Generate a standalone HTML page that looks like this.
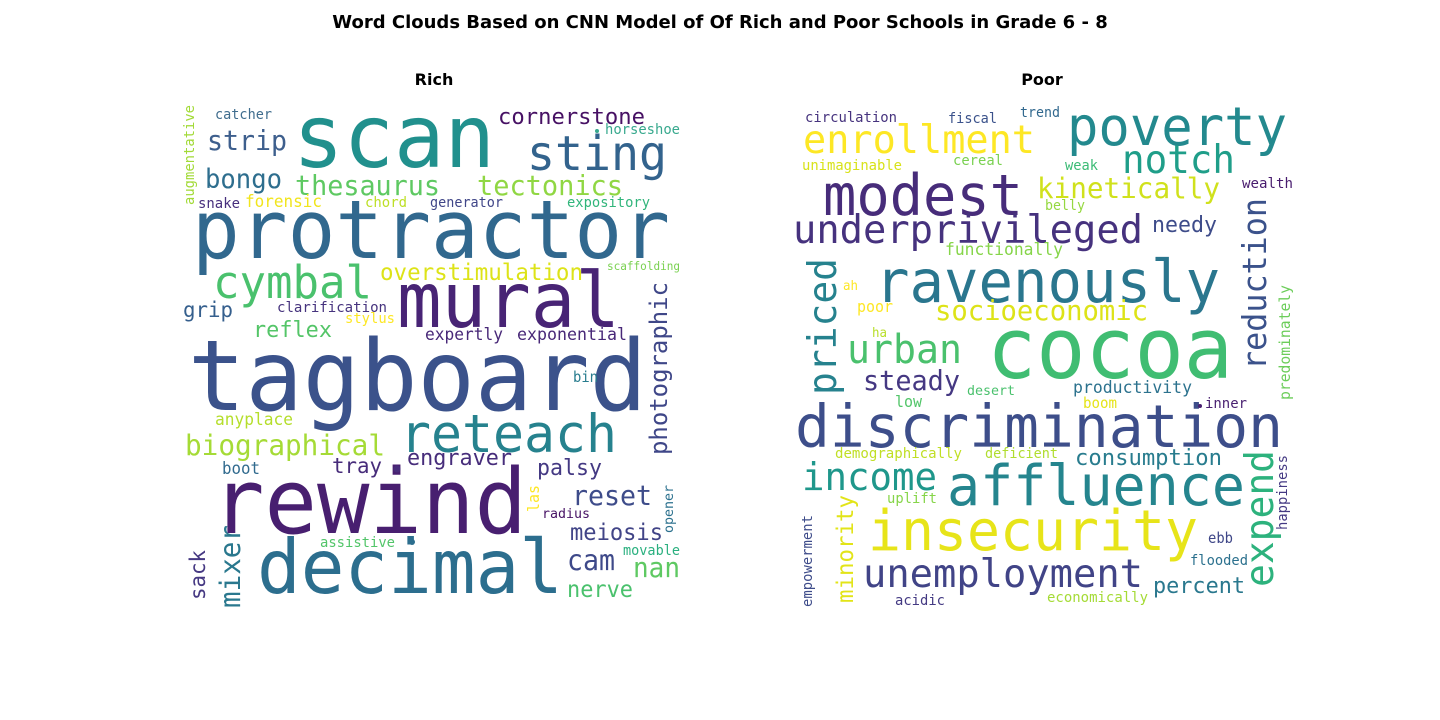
<!DOCTYPE html>
<html><head><meta charset="utf-8"><title>Word Clouds</title>
<style>
html,body{margin:0;padding:0;background:#fff;}
svg{display:block;}
</style></head>
<body>
<svg id="chart" width="1440" height="720" viewBox="0 0 1440 720" xmlns="http://www.w3.org/2000/svg">
<text x="720" y="28" text-anchor="middle" font-family="'DejaVu Sans', 'Liberation Sans', sans-serif" font-weight="bold" font-size="18">Word Clouds Based on CNN Model of Of Rich and Poor Schools in Grade 6 - 8</text>
<text x="434" y="85" text-anchor="middle" font-family="'DejaVu Sans', 'Liberation Sans', sans-serif" font-weight="bold" font-size="16">Rich</text>
<text x="1042" y="85" text-anchor="middle" font-family="'DejaVu Sans', 'Liberation Sans', sans-serif" font-weight="bold" font-size="16">Poor</text>
<g id="rich"></g>
<g id="poor"></g>
</svg>
<script>
// Horizontal: [word, left, right, baseline, color]; vertical: [word, baselineX, bottomY, topY, color, 'v']
const richWords = [
 ["scan",293,495,167,"#21908d"],
 ["protractor",192,670,258,"#31688e"],
 ["tagboard",188,647,410,"#3b528b"],
 ["rewind",212,527,533,"#481f70"],
 ["decimal",257,563,593,"#2c6e8e"],
 ["mural",397,620,327,"#482475"],
 ["reteach",400,617,452,"#26828e"],
 ["cymbal",213,372,298,"#4ac16d"],
 ["sting",527,667,170,"#33638d"],
 ["thesaurus",295,440,195,"#5ec962"],
 ["tectonics",477,623,195,"#90d743"],
 ["cornerstone",498,645,124,"#471164"],
 ["strip",207,287,150,"#3e5f8d"],
 ["bongo",205,282,188,"#2e6e8e"],
 ["overstimulation",380,583,280,"#dde318"],
 ["biographical",185,385,455,"#a5db36"],
 ["palsy",537,602,475,"#443983"],
 ["engraver",407,512,465,"#472d7b"],
 ["tray",332,382,473,"#472c7a"],
 ["reset",572,652,505,"#3e4c8a"],
 ["meiosis",570,663,540,"#414487"],
 ["cam",567,615,570,"#3e4989"],
 ["nan",633,680,577,"#5ec962"],
 ["nerve",567,633,597,"#4ac16d"],
 ["grip",183,233,317,"#355f8d"],
 ["reflex",253,332,337,"#54c568"],
 ["clarification",277,387,312,"#46337e"],
 ["stylus",345,395,323,"#fde725"],
 ["expertly",425,503,340,"#482878"],
 ["exponential",517,627,340,"#482878"],
 ["catcher",215,272,119,"#406d8e"],
 ["horseshoe",605,680,134,"#38a98e"],
 ["snake",198,240,208,"#472f7d"],
 ["forensic",245,322,207,"#f1e51d"],
 ["chord",365,407,207,"#bddf26"],
 ["generator",430,503,207,"#404688"],
 ["expository",567,650,207,"#31b57b"],
 ["scaffolding",607,680,270,"#7ad151"],
 ["anyplace",215,293,425,"#b5de2b"],
 ["boot",222,260,474,"#306a8e"],
 ["bin",573,598,382,"#287c8e"],
 ["radius",542,590,518,"#471365"],
 ["assistive",320,395,547,"#52c569"],
 ["movable",623,680,555,"#2ab07f"],
 ["augmentative",194,205,105,"#a2da37","v"],
 ["photographic",667,455,282,"#3f4788","v"],
 ["las",539,512,485,"#fde725","v"],
 ["opener",673,533,485,"#2c718e","v"],
 ["sack",205,600,550,"#453882","v"],
 ["mixer",240,608,525,"#2a788e","v"]
];
const richDots = [[597,131,2,"#38a98e"],[397,469,3.5,"#472c7a"],[412,542,3,"#2c6e8e"]];
const poorWords = [
 ["circulation",805,897,122,"#46337e"],
 ["fiscal",948,997,123,"#3b528b"],
 ["trend",1020,1060,117,"#31688e"],
 ["poverty",1067,1287,145,"#23898e"],
 ["enrollment",803,1035,153,"#fde725"],
 ["unimaginable",802,902,170,"#d8e219"],
 ["cereal",953,1003,165,"#7ad151"],
 ["weak",1065,1098,170,"#3bbb75"],
 ["notch",1122,1235,173,"#1f9e89"],
 ["wealth",1242,1293,188,"#481c6e"],
 ["modest",823,1023,215,"#472c7a"],
 ["kinetically",1037,1220,198,"#d0e11c"],
 ["belly",1045,1085,210,"#95d840"],
 ["underprivileged",793,1143,243,"#46327e"],
 ["needy",1152,1217,232,"#3e4c8a"],
 ["functionally",945,1063,255,"#86d549"],
 ["ravenously",875,1220,302,"#2a768e"],
 ["ah",843,858,290,"#fde725"],
 ["poor",857,893,312,"#fde725"],
 ["socioeconomic",935,1148,320,"#dde318"],
 ["ha",872,887,337,"#b8de29"],
 ["cocoa",987,1233,378,"#40bd72"],
 ["urban",847,962,363,"#4ac16d"],
 ["steady",863,960,390,"#453882"],
 ["desert",967,1015,395,"#4ac16d"],
 ["productivity",1073,1192,393,"#2c728e"],
 ["low",895,922,407,"#52c569"],
 ["boom",1083,1117,408,"#e5e419"],
 ["inner",1205,1247,408,"#481f70"],
 ["discrimination",795,1283,447,"#3d4e8a"],
 ["demographically",835,962,458,"#c0df25"],
 ["deficient",985,1058,458,"#b0dd2f"],
 ["consumption",1075,1222,465,"#287c8e"],
 ["income",802,937,490,"#1f978b"],
 ["affluence",947,1245,505,"#25858e"],
 ["uplift",887,937,503,"#86d549"],
 ["insecurity",868,1198,550,"#e7e419"],
 ["ebb",1208,1233,543,"#3f4788"],
 ["flooded",1190,1248,565,"#2c718e"],
 ["unemployment",863,1143,587,"#414487"],
 ["percent",1153,1245,593,"#2a788e"],
 ["acidic",895,945,605,"#443a83"],
 ["economically",1047,1148,602,"#a5db36"],
 ["reduction",1266,370,198,"#3b528b","v"],
 ["priced",836,395,258,"#26828e","v"],
 ["predominately",1290,400,285,"#6ccd5a","v"],
 ["expend",1273,587,450,"#2db27d","v"],
 ["happiness",1287,530,455,"#443983","v"],
 ["minority",853,603,495,"#e2e418","v"],
 ["empowerment",812,607,515,"#3e4c8a","v"]
];
const poorDots = [[1200,406,2,"#481f70"]];

const NS = "http://www.w3.org/2000/svg";
function draw(groupId, words, dots) {
  const g = document.getElementById(groupId);
  words.forEach(w => {
    const t = document.createElementNS(NS, "text");
    
    
    const n = w[0].length;
    let len, fs;
    if (w[5] === "v") {
      len = w[2] - w[3];
      fs = len / (0.6 * n - 0.1);
      t.setAttribute("x", w[1]);
      t.setAttribute("y", w[2]);
      t.setAttribute("transform", "rotate(-90 " + w[1] + " " + w[2] + ")");
    } else {
      len = w[2] - w[1];
      fs = len / (0.6 * n - 0.1);
      t.setAttribute("x", w[1]);
      t.setAttribute("y", w[3]);
    }
    t.setAttribute("font-size", fs.toFixed(1));
    t.setAttribute("textLength", len);
    t.setAttribute("lengthAdjust", "spacingAndGlyphs");
    t.setAttribute("fill", w[4]);
    t.setAttribute("font-family", "'DejaVu Sans Mono', 'Liberation Mono', monospace");
    t.textContent = w[0];
    g.appendChild(t);
  });
  dots.forEach(d => {
    const c = document.createElementNS(NS, "circle");
    
    
    c.setAttribute("cx", d[0]); c.setAttribute("cy", d[1]);
    c.setAttribute("r", d[2]); c.setAttribute("fill", d[3]);
    g.appendChild(c);
  });
}
draw("rich", richWords, richDots);
draw("poor", poorWords, poorDots);
</script>
</body></html>
